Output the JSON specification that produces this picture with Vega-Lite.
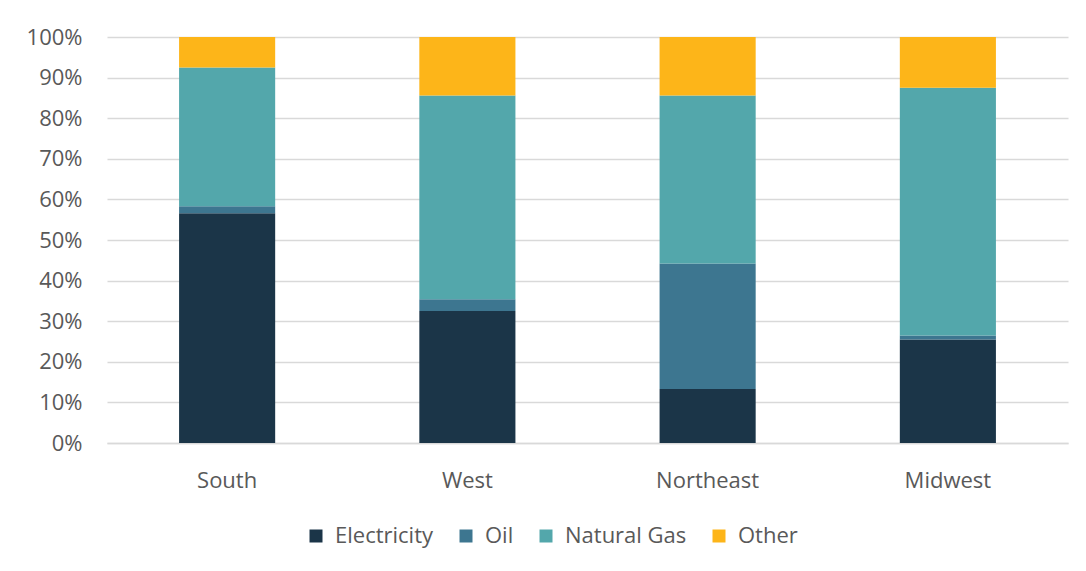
{
  "$schema": "https://vega.github.io/schema/vega-lite/v6.json",
  "width": 961,
  "height": 406,
  "autosize": {"type": "none"},
  "padding": {"left": 107, "top": 37, "right": 18, "bottom": 128},
  "background": "#ffffff",
  "config": {
    "font": "Open Sans",
    "view": {"stroke": null},
    "axis": {"labelColor": "#595959", "labelFontSize": 22, "labelFont": "Open Sans"},
    "legend": {"labelColor": "#595959", "labelFontSize": 22, "labelFont": "Open Sans"}
  },
  "data": {
    "values": [
      {"region": "South", "source": "Electricity", "rank": 1, "share": 0.566},
      {"region": "South", "source": "Oil", "rank": 2, "share": 0.017},
      {"region": "South", "source": "Natural Gas", "rank": 3, "share": 0.342},
      {"region": "South", "source": "Other", "rank": 4, "share": 0.075},
      {"region": "West", "source": "Electricity", "rank": 1, "share": 0.325},
      {"region": "West", "source": "Oil", "rank": 2, "share": 0.029},
      {"region": "West", "source": "Natural Gas", "rank": 3, "share": 0.502},
      {"region": "West", "source": "Other", "rank": 4, "share": 0.144},
      {"region": "Northeast", "source": "Electricity", "rank": 1, "share": 0.133},
      {"region": "Northeast", "source": "Oil", "rank": 2, "share": 0.309},
      {"region": "Northeast", "source": "Natural Gas", "rank": 3, "share": 0.414},
      {"region": "Northeast", "source": "Other", "rank": 4, "share": 0.144},
      {"region": "Midwest", "source": "Electricity", "rank": 1, "share": 0.255},
      {"region": "Midwest", "source": "Oil", "rank": 2, "share": 0.010},
      {"region": "Midwest", "source": "Natural Gas", "rank": 3, "share": 0.610},
      {"region": "Midwest", "source": "Other", "rank": 4, "share": 0.125}
    ]
  },
  "mark": {"type": "bar"},
  "encoding": {
    "x": {
      "field": "region",
      "type": "nominal",
      "sort": ["South", "West", "Northeast", "Midwest"],
      "scale": {"paddingInner": 0.6, "paddingOuter": 0.3},
      "axis": {
        "title": null,
        "labelAngle": 0,
        "ticks": false,
        "domain": true,
        "domainColor": "#D9D9D9",
        "domainWidth": 1.5,
        "labelPadding": 27
      }
    },
    "y": {
      "field": "share",
      "type": "quantitative",
      "stack": "zero",
      "scale": {"domain": [0, 1], "nice": false},
      "axis": {
        "title": null,
        "format": ".0%",
        "values": [0, 0.1, 0.2, 0.3, 0.4, 0.5, 0.6, 0.7, 0.8, 0.9, 1],
        "domain": false,
        "ticks": false,
        "gridColor": "#D9D9D9",
        "gridWidth": 1.5,
        "labelPadding": 25
      }
    },
    "order": {"field": "rank", "type": "quantitative", "sort": "ascending"},
    "color": {
      "field": "source",
      "type": "nominal",
      "scale": {
        "domain": ["Electricity", "Oil", "Natural Gas", "Other"],
        "range": ["#1B3548", "#3D7690", "#53A7AB", "#FDB519"]
      },
      "legend": {
        "title": null,
        "orient": "none",
        "direction": "horizontal",
        "legendX": 198,
        "legendY": 488,
        "symbolType": "square",
        "symbolSize": 169,
        "symbolStrokeWidth": 0,
        "labelOffset": 8,
        "columnPadding": 21
      }
    }
  }
}
